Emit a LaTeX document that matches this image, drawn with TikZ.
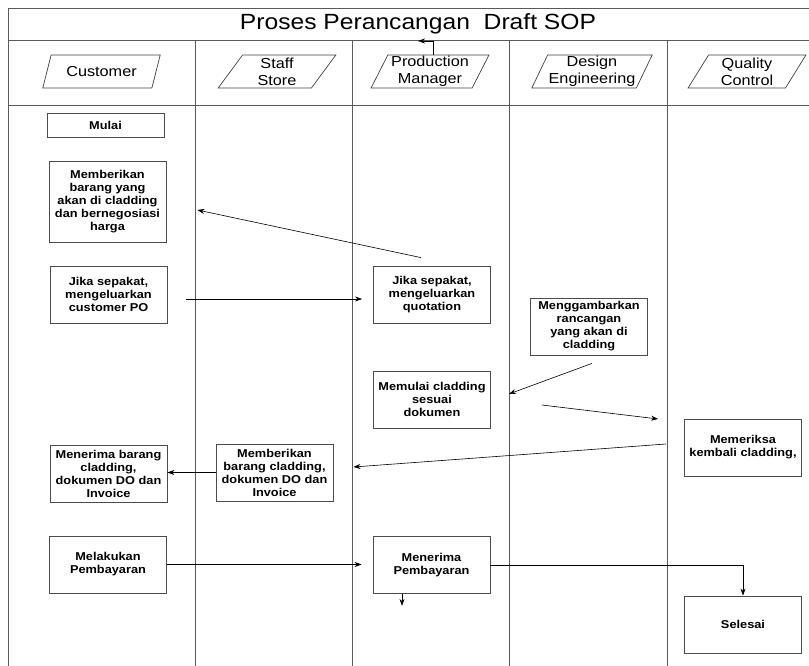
\documentclass[tikz,border=0pt]{standalone}
\usepackage{fontspec}
\setmainfont{Liberation Sans}[FakeStretch=1.12]
\usetikzlibrary{shapes.geometric,arrows.meta}

\tikzset{
  lane/.style={draw=black!65, line width=0.9pt},
  procbox/.style={draw=black!70, line width=0.8pt, align=center, inner sep=1pt,
    minimum width=117pt, minimum height=57pt, font=\fontsize{11.4}{13}\selectfont\bfseries},
  headbox/.style={draw=black!75, line width=0.7pt, trapezium, trapezium left angle=64,
    trapezium right angle=116, trapezium stretches=true, minimum width=118pt,
    minimum height=33pt, align=center, inner sep=1pt, font=\fontsize{14.5}{17}\selectfont},
  arr/.style={-{Stealth[length=7pt,width=5pt]}, line width=0.6pt}
}

\begin{document}
\begin{tikzpicture}[x=1pt,y=-1pt]
	\useasboundingbox (0,0) rectangle (809,666);
	% frame and lanes
	\draw[lane] (809,8)--(8,8)--(8,666);
	\draw[lane] (8,40)--(809,40);
	\draw[lane] (8,105)--(809,105);
	\foreach \lx in {195,352,509,667}
		\draw[lane] (\lx,40)--(\lx,666);
	\node[font=\fontsize{22}{24}\selectfont] (judul) at (418,24) {Proses Perancangan\ \ Draft SOP};

	% lane headers
	\node[headbox] (cust) at (101.5,71.5) {Customer};
	\node[headbox] (staff) at (277,71.5) {Staff\\Store};
	\node[headbox] (pm) at (430,71.5) {Production\\Manager};
	\node[headbox] (design) at (592,71.5) {Design\\Engineering};
	\node[headbox] (qc) at (747,71.5) {Quality\\Control};
	\coordinate (pmtip) at (418,41);
	\draw[arr] ([xshift=3pt]pm.north) |- (pmtip);

	% steps
	\node[procbox, minimum height=24pt] (mulai) at (105.5,125) {Mulai};
	\node[procbox, minimum height=81pt] (beri) at (107.5,201.5) {Memberikan\\barang yang\\akan di cladding\\dan bernegosiasi\\harga};
	\node[procbox] (po) at (108.5,294.5) {Jika sepakat,\\mengeluarkan\\customer PO};
	\node[procbox] (quot) at (432,294.5) {Jika sepakat,\\mengeluarkan\\quotation};
	\node[procbox] (gambar) at (589,326.5) {Menggambarkan\\rancangan\\yang akan di\\cladding};
	\node[procbox] (mulaicl) at (432,399.5) {Memulai cladding\\sesuai\\dokumen};
	\node[procbox] (periksa) at (743,447.5) {Memeriksa\\kembali cladding,};
	\node[procbox] (terimabr) at (108.5,473.5) {Menerima barang\\cladding,\\dokumen DO dan\\Invoice};
	\node[procbox] (beribr) at (274.5,472.5) {Memberikan\\barang cladding,\\dokumen DO dan\\Invoice};
	\node[procbox] (bayar) at (108,564.5) {Melakukan\\Pembayaran};
	\node[procbox] (terimabyr) at (431.5,565) {Menerima\\Pembayaran};
	\node[procbox] (selesai) at (743,624.5) {Selesai};

	% connectors
	\draw[arr] ([shift={(19,4.5)}]po.east) -- ([shift={(-11,4.5)}]quot.west);
	\draw[arr] ([shift={(-11,-8)}]quot.north) -- ([shift={(31,8.5)}]beri.east);
	\draw[arr] ([shift={(3,8)}]gambar.south) -- ([shift={(18,-5.5)}]mulaicl.east);
	\draw[arr] ([shift={(51,5.5)}]mulaicl.east) -- ([shift={(-26,-28.5)}]periksa.west);
	\draw[arr] ([shift={(-18,-3.5)}]periksa.west) -- ([shift={(20,-5.5)}]beribr.east);
	\draw[arr] (beribr.west) -- (beribr.west -| terimabr.east);
	\draw[arr] (bayar.east) -- ([xshift=-11pt]bayar.east -| terimabyr.west);
	\draw[arr] (terimabyr.east) -| (selesai.north);
	\draw[arr] ([xshift=-29.5pt]terimabyr.south) -- ++(0,12);
\end{tikzpicture}
\end{document}
